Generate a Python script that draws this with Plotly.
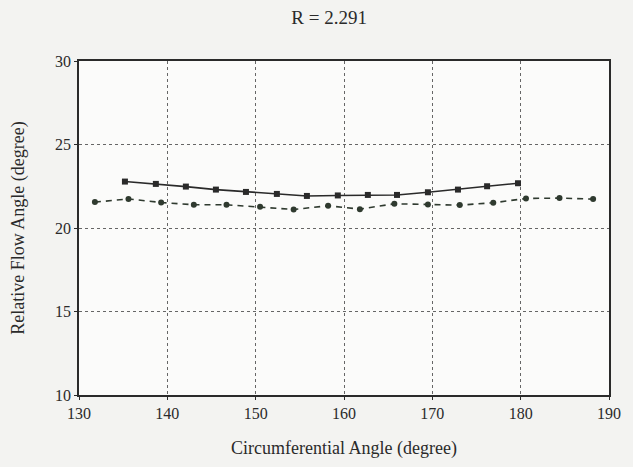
import plotly.graph_objects as go

# Solid line with squares
angle_a = [135.2, 138.7, 142.1, 145.5, 148.9, 152.4, 155.8, 159.3, 162.7, 166.0, 169.5, 172.9, 176.2, 179.7]
flow_a = [22.78, 22.64, 22.48, 22.30, 22.16, 22.04, 21.92, 21.95, 21.98, 21.98, 22.14, 22.30, 22.50, 22.68]

# Dashed line with circles
angle_b = [131.8, 135.6, 139.3, 143.0, 146.7, 150.5, 154.3, 158.2, 161.8, 165.7, 169.5, 173.1, 176.9, 180.6, 184.4, 188.2]
flow_b = [21.55, 21.74, 21.53, 21.39, 21.39, 21.27, 21.11, 21.33, 21.13, 21.45, 21.41, 21.37, 21.51, 21.77, 21.79, 21.73]

x_ticks = [130, 140, 150, 160, 170, 180, 190]
y_ticks = [10, 15, 20, 25, 30]

font_family = "Liberation Serif, Times New Roman, serif"
ink = "#2a2a2a"

fig = go.Figure()
fig.add_trace(go.Scatter(
    x=angle_a, y=flow_a, mode="lines+markers",
    line=dict(color=ink, width=1.6, dash="solid"),
    marker=dict(symbol="square", size=6, color=ink),
    showlegend=False,
))
fig.add_trace(go.Scatter(
    x=angle_b, y=flow_b, mode="lines+markers",
    line=dict(color="#2f3a2f", width=1.6, dash="6px,5px"),
    marker=dict(symbol="circle", size=6, color="#2f3a2f"),
    showlegend=False,
))

fig.update_layout(
    width=633, height=467,
    margin=dict(l=79, r=16, t=61, b=70),
    paper_bgcolor="#f3f3f1",
    plot_bgcolor="#fbfbfa",
    font=dict(family=font_family, color=ink, size=16),
    title=dict(text="R = 2.291", x=0.52, xanchor="center", y=0.962, yanchor="middle",
               font=dict(family=font_family, size=19, color=ink)),
)
fig.update_xaxes(
    range=[130, 190], tickvals=x_ticks, ticktext=[str(v) for v in x_ticks],
    showgrid=True, gridcolor="#666", griddash="dot", gridwidth=1,
    showline=True, linecolor=ink, linewidth=1.5, mirror=True,
    ticks="outside", ticklen=3, tickcolor=ink,
    zeroline=False,
    title=dict(text="Circumferential Angle (degree)", font=dict(size=18), standoff=20),
    tickfont=dict(size=16),
)
fig.update_yaxes(
    range=[10, 30], tickvals=y_ticks, ticktext=[str(v) for v in y_ticks],
    showgrid=True, gridcolor="#666", griddash="dot", gridwidth=1,
    showline=True, linecolor=ink, linewidth=1.5, mirror=True,
    ticks="outside", ticklen=3, tickcolor=ink,
    zeroline=False,
    title=dict(text="Relative Flow Angle (degree)", font=dict(size=18), standoff=26),
    tickfont=dict(size=16),
)

fig.write_html("out.html", config={"displayModeBar": False},
               post_script="document.body.style.margin='0';document.body.style.overflow='hidden';")
